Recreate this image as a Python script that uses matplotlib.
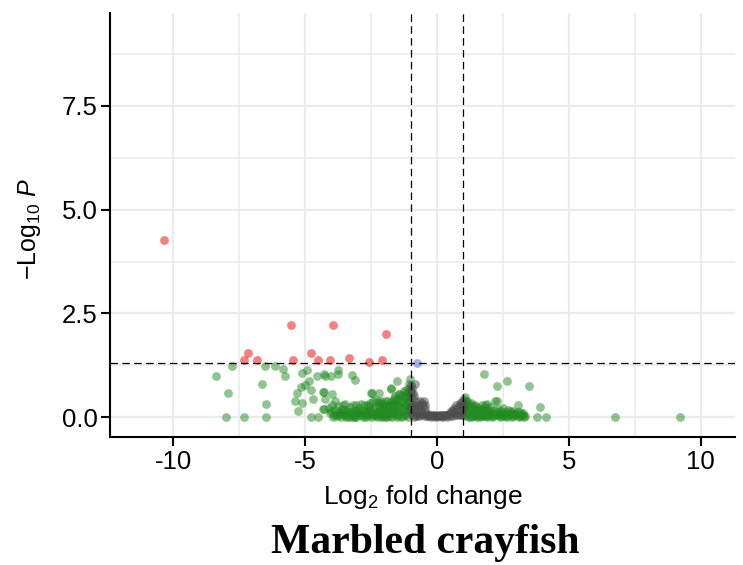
"""
Volcano plot - Marbled crayfish
Log2 fold change vs -Log10 P, EnhancedVolcano-style colouring.
"""

import matplotlib
matplotlib.use("Agg")
import matplotlib.pyplot as plt

# =====================================================
# DATA
# =====================================================
# significant by P and fold change (red)
red_x = [-10.34, -5.52, -3.94, -1.94, -7.15, -7.30, -6.81, -5.47, -4.77,
         -4.52, -4.04, -3.34, -2.56, -2.08]
red_y = [4.28, 2.21, 2.21, 2.00, 1.55, 1.38, 1.38, 1.38, 1.55,
         1.38, 1.38, 1.42, 1.34, 1.38]

# significant by P only (blue)
blue_x = [-0.77]
blue_y = [1.30]

# significant by fold change only (green)
green_x = [
    # sparse, left
    -8.36, -7.78, -7.94, -7.98, -7.31, -6.49, -6.48, -6.62, -6.53, -6.14,
    -5.82, -5.75, -5.39, -5.27, -5.13, -5.29, -5.16, -5.01, -5.10, -4.92,
    -4.86, -4.76, -4.70, -4.78, -4.52, -4.55, -4.24, -4.03, -3.75, -3.75,
    -4.32, -4.25, -4.31, -3.23, -3.11, -2.51, -2.20, -1.73, -1.50, -1.02,
    -4.28, -3.97, -3.86, -4.28, -2.47, -2.13, -1.75, -1.44, -4.28,
    # dense, left
    -4.10, -4.05, -3.98, -3.92, -3.88, -3.80, -3.76, -3.70, -3.65, -3.60,
    -3.55, -3.50, -3.46, -3.40, -3.35, -3.30, -3.25, -3.20, -3.15, -3.10,
    -3.05, -3.00, -2.95, -2.90, -2.85, -2.80, -2.75, -2.70, -2.65, -2.60,
    -2.55, -2.50, -2.45, -2.40, -2.36, -2.32, -2.28, -2.24, -2.20, -2.16,
    -2.12, -2.08, -2.04, -2.00, -1.96, -1.92, -1.88, -1.84, -1.80, -1.76,
    -1.72, -1.68, -1.64, -1.60, -1.56, -1.52, -1.48, -1.44, -1.40, -1.36,
    -1.32, -1.28, -1.24, -1.20, -1.16, -1.12, -1.08, -1.05, -1.03, -1.02,
    -1.10, -1.30, -1.50, -1.70, -1.90, -2.10, -2.30, -2.70, -3.10, -3.45,
    -1.15, -1.35, -1.55, -1.75, -1.95, -2.15, -2.65, -3.20, -2.42, -1.06,
    -4.00, -3.94, -3.84, -3.72, -3.62, -3.52, -3.42, -3.32, -3.22, -3.12,
    -3.02, -2.92, -2.82, -2.72, -2.62, -2.52, -2.42, -2.34, -2.26, -2.18,
    -2.10, -2.02, -1.94, -1.86, -1.78, -1.70, -1.62, -1.54, -1.46, -1.38,
    -1.30, -1.22, -1.18, -1.14, -1.10, -1.07, -1.04, -1.02, -1.26, -1.42,
    -3.58, -3.05, -2.88, -2.58, -2.22, -1.98, -1.82, -1.66, -1.58, -1.46,
    -1.26, -1.18, -1.10, -1.04,
    # dense, right
    1.02, 1.05, 1.08, 1.10, 1.12, 1.15, 1.18, 1.22, 1.25, 1.28,
    1.32, 1.36, 1.40, 1.44, 1.48, 1.52, 1.56, 1.60, 1.64, 1.68,
    1.72, 1.76, 1.81, 1.85, 1.90, 1.94, 1.98, 2.02, 2.06, 2.10,
    2.15, 2.22, 2.25, 2.30, 2.35, 2.40, 2.45, 2.50, 2.55, 2.60,
    2.65, 2.70, 2.75, 2.80, 2.85, 2.90, 2.95, 3.00, 3.07, 3.10,
    3.15, 3.20, 3.25, 3.30, 3.35, 1.20, 1.38, 1.62, 1.88, 2.12,
    2.38, 2.62, 2.88, 3.12, 1.03, 1.06, 1.14, 1.30, 1.50, 1.70,
    1.04, 1.09, 1.13, 1.19, 1.24, 1.34, 1.42, 1.46, 1.54, 1.58,
    1.66, 1.74, 1.79, 1.84, 1.92, 2.00, 2.08, 2.18, 2.28, 2.42,
    2.52, 2.68, 2.78, 2.92, 3.04, 3.18, 3.28, 1.01, 1.07,
    # sparse, right
    1.78, 2.28, 2.64, 3.48, 3.90, 3.80, 4.15, 6.77, 9.23, 2.27, 1.90,
]
green_y = [
    # sparse, left
    0.99, 1.22, 0.59, 0.00, 0.00, 0.00, 0.32, 0.80, 1.22, 1.22,
    1.17, 0.99, 0.38, 0.14, 0.35, 0.59, 0.72, 0.77, 1.06, 1.14,
    0.88, 0.66, 0.43, 0.00, 0.00, 0.98, 0.98, 0.99, 1.14, 1.03,
    0.61, 0.43, 0.19, 1.02, 0.89, 0.59, 0.58, 0.69, 0.87, 0.91,
    1.03, 0.56, 0.40, 0.20, 0.59, 0.39, 0.68, 0.56, 0.60,
    # dense, left
    0.22, 0.10, 0.30, 0.05, 0.18, 0.02, 0.26, 0.12, 0.00, 0.20,
    0.08, 0.32, 0.03, 0.15, 0.00, 0.24, 0.06, 0.12, 0.02, 0.18,
    0.00, 0.09, 0.22, 0.04, 0.14, 0.00, 0.28, 0.07, 0.16, 0.02,
    0.35, 0.10, 0.00, 0.20, 0.05, 0.42, 0.13, 0.00, 0.26, 0.08,
    0.18, 0.03, 0.32, 0.11, 0.00, 0.22, 0.06, 0.38, 0.15, 0.02,
    0.28, 0.09, 0.45, 0.19, 0.04, 0.33, 0.12, 0.55, 0.24, 0.00,
    0.40, 0.14, 0.62, 0.30, 0.06, 0.48, 0.20, 0.70, 0.35, 0.10,
    0.00, 0.02, 0.00, 0.00, 0.01, 0.00, 0.02, 0.00, 0.01, 0.00,
    0.58, 0.50, 0.42, 0.36, 0.30, 0.34, 0.30, 0.28, 0.38, 0.80,
    0.14, 0.00, 0.08, 0.04, 0.10, 0.16, 0.08, 0.12, 0.00, 0.08,
    0.15, 0.10, 0.06, 0.12, 0.09, 0.18, 0.06, 0.24, 0.10, 0.15,
    0.22, 0.06, 0.14, 0.24, 0.10, 0.18, 0.30, 0.14, 0.24, 0.34,
    0.22, 0.45, 0.15, 0.36, 0.26, 0.52, 0.18, 0.60, 0.08, 0.06,
    0.28, 0.30, 0.32, 0.26, 0.36, 0.40, 0.30, 0.38, 0.50, 0.44,
    0.52, 0.66, 0.60, 0.42,
    # dense, right
    0.44, 0.30, 0.12, 0.38, 0.02, 0.40, 0.20, 0.06, 0.28, 0.00,
    0.16, 0.24, 0.04, 0.18, 0.10, 0.00, 0.22, 0.08, 0.14, 0.02,
    0.20, 0.06, 0.30, 0.12, 0.00, 0.18, 0.05, 0.24, 0.10, 0.00,
    0.16, 0.40, 0.04, 0.20, 0.08, 0.00, 0.14, 0.22, 0.03, 0.12,
    0.00, 0.18, 0.06, 0.10, 0.00, 0.15, 0.04, 0.08, 0.30, 0.00,
    0.12, 0.03, 0.06, 0.00, 0.02, 0.00, 0.02, 0.00, 0.02, 0.02,
    0.02, 0.02, 0.02, 0.02, 0.05, 0.20, 0.25, 0.33, 0.26, 0.28,
    0.36, 0.24, 0.14, 0.32, 0.12, 0.08, 0.28, 0.02, 0.14, 0.04,
    0.20, 0.12, 0.02, 0.22, 0.08, 0.14, 0.04, 0.08, 0.12, 0.08,
    0.06, 0.08, 0.14, 0.08, 0.12, 0.08, 0.10, 0.16, 0.48,
    # sparse, right
    1.03, 0.76, 0.86, 0.74, 0.24, 0.00, 0.00, 0.00, 0.00, 0.39, 0.31,
]

# not significant (grey)
grey_x = [-0.99, -0.84, -0.90, -0.95, -0.92, -0.88, -0.80, -0.75, -0.70, -0.58,
          -0.49, -0.52, -0.62, -0.45, -0.40, -0.35, -0.30, -0.25, -0.20, -0.15,
          -0.10, -0.05, 0.00, 0.05, 0.10, 0.15, 0.20, 0.25, 0.30, 0.35,
          0.40, 0.45, 0.50, 0.55, 0.60, 0.64, 0.70, 0.76, 0.83, 0.90,
          0.96, 0.93, 0.85, -0.95, -0.85, -0.70, -0.60, -0.98, -0.97, 0.98,
          -0.55, -0.65,
          -0.78, -0.68, -0.56, -0.45, -0.38, -0.32, -0.22, -0.12, -0.02, 0.08,
          0.18, 0.28, 0.38, 0.48, 0.58, 0.68, 0.78, 0.88, 0.95, -0.90,
          -0.82, -0.78, -0.86, -0.93, -0.66, -0.44, 0.72, 0.88, 0.99, 0.62]
grey_y = [0.78, 0.79, 0.59, 0.45, 0.30, 0.20, 0.12, 0.22, 0.30, 0.35,
          0.38, 0.28, 0.18, 0.20, 0.10, 0.06, 0.04, 0.05, 0.03, 0.05,
          0.04, 0.03, 0.05, 0.03, 0.04, 0.05, 0.03, 0.05, 0.04, 0.06,
          0.05, 0.08, 0.10, 0.14, 0.18, 0.22, 0.12, 0.20, 0.26, 0.30,
          0.40, 0.15, 0.08, 0.10, 0.00, 0.05, 0.08, 0.62, 0.25, 0.22,
          0.12, 0.40,
          0.02, 0.03, 0.04, 0.02, 0.03, 0.02, 0.01, 0.02, 0.01, 0.02,
          0.01, 0.02, 0.01, 0.02, 0.03, 0.04, 0.05, 0.04, 0.06, 0.05,
          0.30, 0.40, 0.50, 0.70, 0.25, 0.30, 0.28, 0.35, 0.30, 0.10]

FC_CUTOFF = 1.0
P_CUTOFF = 1.30103  # -log10(0.05)

X_TICKS = [-10, -5, 0, 5, 10]
Y_TICKS = [0.0, 2.5, 5.0, 7.5]
Y_TICK_LABELS = ["0.0", "2.5", "5.0", "7.5"]

TITLE = "Marbled crayfish"

plt.rcParams['font.family'] = ['Liberation Sans', 'DejaVu Sans']
plt.rcParams['mathtext.fontset'] = 'custom'
plt.rcParams['mathtext.rm'] = 'Liberation Sans'
plt.rcParams['mathtext.it'] = 'Liberation Sans:italic'
plt.rcParams['mathtext.bf'] = 'Liberation Sans:bold'
plt.rcParams['axes.unicode_minus'] = False

fig = plt.figure(figsize=(7.43, 5.65), dpi=100)
ax = fig.add_axes([0.148, 0.2265, 0.841, 0.7505])

# grid: major + minor, ggplot-like
grid_col = '#ebebeb'
for gx in [-10, -5, 0, 5, 10]:
    ax.axvline(gx, color=grid_col, lw=1.6, zorder=0)
for gx in [-7.5, -2.5, 2.5, 7.5]:
    ax.axvline(gx, color=grid_col, lw=1.2, zorder=0)
for gy in [0.0, 2.5, 5.0, 7.5]:
    ax.axhline(gy, color=grid_col, lw=1.6, zorder=0)
for gy in [1.25, 3.75, 6.25, 8.75]:
    ax.axhline(gy, color=grid_col, lw=1.2, zorder=0)

s = 40
ax.scatter(green_x, green_y, s=s, color='#228B22', alpha=0.5, linewidths=0, zorder=2)
ax.scatter(grey_x, grey_y, s=s, color='#4D4D4D', alpha=0.5, linewidths=0, zorder=2)
ax.scatter(blue_x, blue_y, s=s, color='#4169E1', alpha=0.5, linewidths=0, zorder=3)
ax.scatter(red_x, red_y, s=s, color='#EE0000', alpha=0.5, linewidths=0, zorder=3)

# cutoff lines
dash = (0, (6, 3.5))
ax.axvline(-FC_CUTOFF, color='black', lw=0.9, ls=dash, zorder=4)
ax.axvline(FC_CUTOFF, color='black', lw=0.9, ls=dash, zorder=4)
ax.axhline(P_CUTOFF, color='black', lw=0.9, ls=dash, zorder=4)

ax.set_xlim(-12.4, 11.3)
ax.set_ylim(-0.48, 9.74)
ax.set_xticks(X_TICKS)
ax.set_xticklabels([str(t) for t in X_TICKS])
ax.set_yticks(Y_TICKS)
ax.set_yticklabels(Y_TICK_LABELS)
ax.tick_params(axis='both', which='major', length=6.5, width=1.5, colors='black',
               labelsize=18.5, direction='out', pad=2.5)

for side in ['top', 'right']:
    ax.spines[side].set_visible(False)
for side in ['left', 'bottom']:
    ax.spines[side].set_linewidth(1.5)
    ax.spines[side].set_color('black')

ax.set_xlabel(r'Log$_2$ fold change', fontsize=19, va='center')
ax.xaxis.set_label_coords(0.5, -0.1415)
ax.set_ylabel(r'$-$Log$_{10}$ $\mathit{P}$', fontsize=18, va='center')
ax.yaxis.set_label_coords(-0.128, 0.49)

fig.text(0.572, 0.039, TITLE, ha='center', va='center', fontsize=30,
         fontweight='bold', family=['Liberation Serif', 'DejaVu Serif'])

fig.savefig('out.png', dpi=100)
